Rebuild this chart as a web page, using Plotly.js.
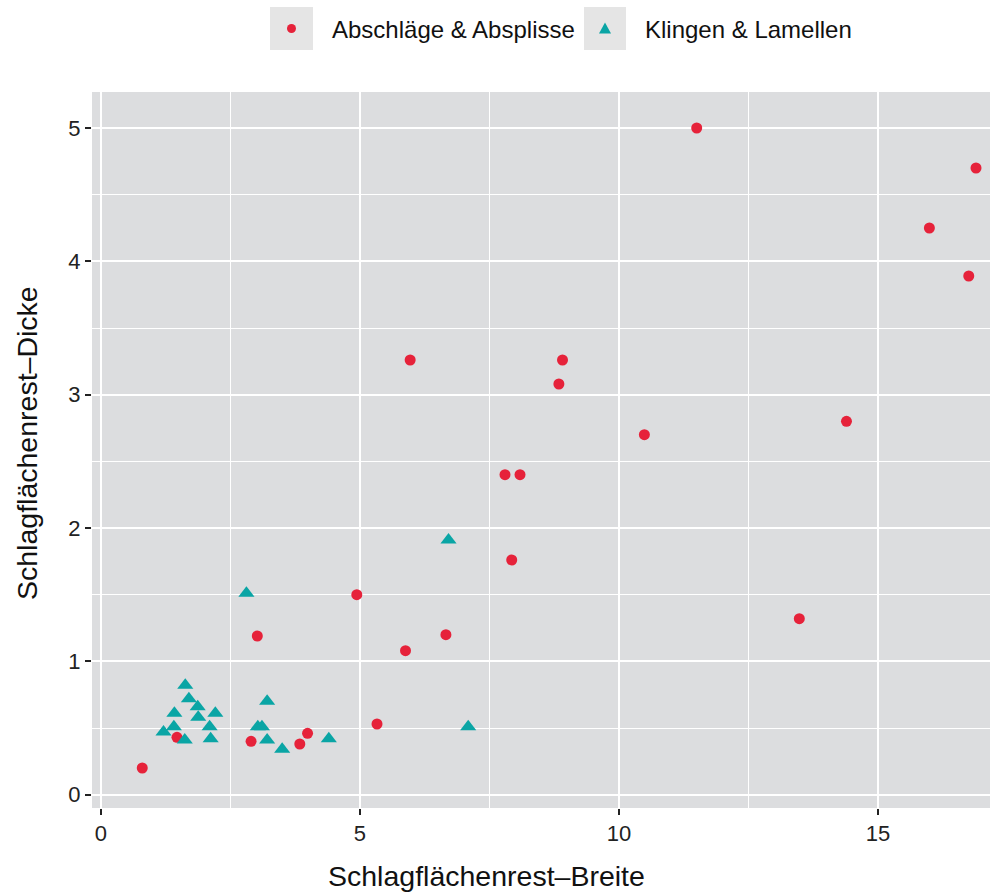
<!DOCTYPE html>
<html>
<head>
<meta charset="utf-8">
<script src="https://cdn.plot.ly/plotly-3.0.1.min.js"></script>
<style>html,body{margin:0;padding:0;background:#fff;}#chart{width:1007px;height:896px;}</style>
</head>
<body>
<div id="chart"></div>
<script>
// Abschläge & Absplisse (circles)
const flakesBreite = [0.80, 1.47, 2.90, 3.02, 3.84, 3.99, 4.94, 5.33, 5.88, 5.97, 6.66, 7.80, 7.93, 8.09, 8.84, 8.91, 10.49, 11.50, 13.48, 14.39, 15.99, 16.75, 16.89];
const flakesDicke  = [0.20, 0.43, 0.40, 1.19, 0.38, 0.46, 1.50, 0.53, 1.08, 3.26, 1.20, 2.40, 1.76, 2.40, 3.08, 3.26, 2.70, 5.00, 1.32, 2.80, 4.25, 3.89, 4.70];
// Klingen & Lamellen (triangles)
const bladesBreite = [1.21, 1.41, 1.42, 1.62, 1.63, 1.70, 1.87, 1.88, 2.10, 2.12, 2.21, 2.81, 3.03, 3.11, 3.21, 3.21, 3.50, 4.40, 6.71, 7.09];
const bladesDicke  = [0.47, 0.51, 0.61, 0.41, 0.82, 0.72, 0.66, 0.58, 0.51, 0.42, 0.61, 1.51, 0.51, 0.51, 0.70, 0.41, 0.34, 0.42, 1.91, 0.51];

const seriesNames = ["Abschläge & Absplisse", "Klingen & Lamellen"];
const xTitle = "Schlagflächenrest–Breite";
const yTitle = "Schlagflächenrest–Dicke";
const xTicks = [0, 5, 10, 15];
const yTicks = [0, 1, 2, 3, 4, 5];

const red = "#e6223a", teal = "#0aa5a5";
const traces = [
  {x: flakesBreite, y: flakesDicke, name: seriesNames[0], type: "scatter", mode: "markers",
   marker: {symbol: "circle", size: 11, color: red}, showlegend: false},
  {x: bladesBreite, y: bladesDicke, name: seriesNames[1], type: "scatter", mode: "markers",
   marker: {symbol: "triangle-up", size: 14, color: teal}, showlegend: false}
];

// pixel -> paper helpers for the hand-built legend and titles (plot area: x 92..990, y 92..808)
const L = 92, W = 898, B = 808, H = 716;
const px = v => (v - L) / W;
const py = v => (B - v) / H;

const legendKeys = [
  {box: [270, 313], textX: 330, color: red, kind: "circle"},
  {box: [584, 626], textX: 643, color: teal, kind: "triangle"}
];
const shapes = [], annotations = [];
legendKeys.forEach((k, i) => {
  shapes.push({type: "rect", xref: "paper", yref: "paper", x0: px(k.box[0]), x1: px(k.box[1]),
               y0: py(50), y1: py(7), fillcolor: "#e5e5e5", line: {width: 0}});
  const cx = (k.box[0] + k.box[1]) / 2, cy = 28.5;
  if (k.kind === "circle") {
    shapes.push({type: "circle", xref: "paper", yref: "paper", x0: px(cx - 4.5), x1: px(cx + 4.5),
                 y0: py(cy + 4.5), y1: py(cy - 4.5), fillcolor: k.color, line: {width: 0}});
  } else {
    const path = `M ${px(cx - 6)} ${py(cy + 5)} L ${px(cx + 6)} ${py(cy + 5)} L ${px(cx)} ${py(cy - 6)} Z`;
    shapes.push({type: "path", xref: "paper", yref: "paper", path: path, fillcolor: k.color, line: {width: 0}});
  }
  annotations.push({xref: "paper", yref: "paper", x: px(k.textX), y: py(30), xanchor: "left", yanchor: "middle",
                    text: seriesNames[i], showarrow: false, font: {size: 24, color: "#111"}});
});
// axis titles
annotations.push({xref: "paper", yref: "paper", x: px(486), y: py(876), xanchor: "center", yanchor: "middle",
                  text: xTitle, showarrow: false, font: {size: 28.5, color: "#111"}});
annotations.push({xref: "paper", yref: "paper", x: px(27), y: py(443), xanchor: "center", yanchor: "middle",
                  text: yTitle, textangle: -90, showarrow: false, font: {size: 28.5, color: "#111"}});

const layout = {
  width: 1007, height: 896,
  margin: {l: 92, r: 17, t: 92, b: 88},
  paper_bgcolor: "#ffffff",
  plot_bgcolor: "#dcdddf",
  font: {family: "Liberation Sans, Arial, sans-serif", color: "#000", size: 20},
  showlegend: false,
  xaxis: {range: [-0.17, 17.16], tickvals: xTicks, ticktext: xTicks.map(String),
          showgrid: true, gridcolor: "#ffffff", gridwidth: 2.2, zeroline: false,
          minor: {dtick: 2.5, tick0: 0, showgrid: true, gridcolor: "#ffffff", gridwidth: 1},
          ticks: "outside", ticklen: 6, tickwidth: 2, tickcolor: "#222",
          tickfont: {size: 22, color: "#222"}, showline: false},
  yaxis: {range: [-0.1, 5.27], tickvals: yTicks, ticktext: yTicks.map(String),
          showgrid: true, gridcolor: "#ffffff", gridwidth: 2.2, zeroline: false,
          minor: {dtick: 0.5, tick0: 0, showgrid: true, gridcolor: "#ffffff", gridwidth: 1},
          ticks: "outside", ticklen: 6, tickwidth: 2, tickcolor: "#222",
          tickfont: {size: 22, color: "#222"}, showline: false},
  shapes: shapes,
  annotations: annotations
};
Plotly.newPlot("chart", traces, layout, {displayModeBar: false});
</script>
</body>
</html>
